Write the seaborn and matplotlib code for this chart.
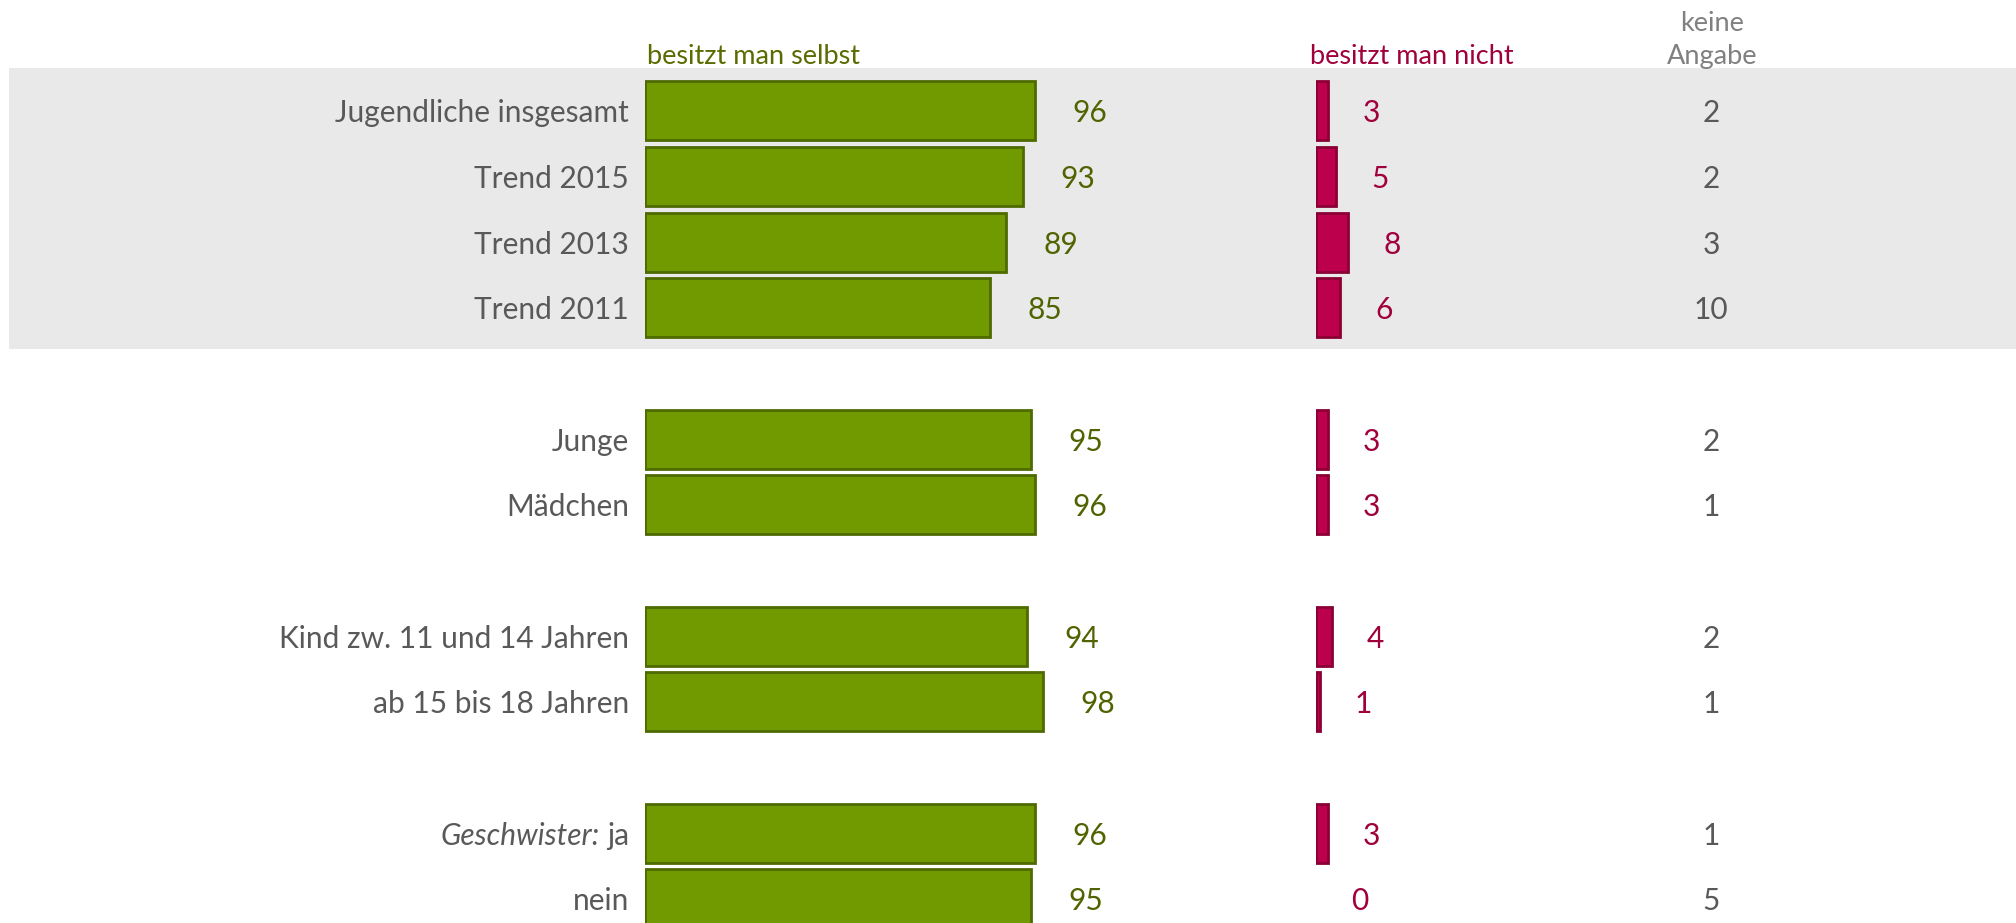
import matplotlib
matplotlib.use("Agg")
import matplotlib.pyplot as plt
import seaborn as sns
import pandas as pd

labels = ["Jugendliche insgesamt", "Trend 2015", "Trend 2013", "Trend 2011",
          "Junge", "Mädchen",
          "Kind zw. 11 und 14 Jahren", "ab 15 bis 18 Jahren",
          "Geschwister: ja", "nein"]
group_sizes = [4, 2, 2, 2]
own = [96, 93, 89, 85, 95, 96, 94, 98, 96, 95]
not_own = [3, 5, 8, 6, 3, 3, 4, 1, 3, 0]
no_answer = [2, 2, 3, 10, 2, 1, 2, 1, 1, 5]
headers = ["besitzt man selbst", "besitzt man nicht", "keine\nAngabe"]

GREEN, GREEN_EDGE, GREEN_TXT = "#719a00", "#4e6a00", "#4f6300"
RED, RED_EDGE, RED_TXT = "#bc004c", "#8a0036", "#a0003c"
GRAY_TXT = "#595959"

W, H = 2016, 923
PX_PER_PCT = 4.06

sns.set_theme(style="white")
plt.rcParams["font.family"] = ["Lato", "DejaVu Sans"]

df = pd.DataFrame({"label": labels, "own": own, "not_own": not_own, "no_answer": no_answer})

# category order with empty spacer slots between the groups
order = []
i = 0
for g, n in enumerate(group_sizes):
    if g > 0:
        order.append(f"_gap{g}")
    order += labels[i:i + n]
    i += n
pos = {name: k for k, name in enumerate(order)}
ylim = (len(order) - 1 + 0.37, -1.69)

fig = plt.figure(figsize=(W / 100, H / 100), dpi=100)

# background axes for the grey band and free text
ax_bg = fig.add_axes([0, 0, 1, 1])
ax_bg.set_xlim(0, W)
ax_bg.set_ylim(*ylim)
ax_bg.axhspan(-0.66, 3.63, xmin=9 / W, xmax=1, color="#e9e9e9", lw=0)
ax_bg.axis("off")

g_left, g_width = 645, 620
r_left, r_width = 1316, 300
ax_g = fig.add_axes([g_left / W, 0, g_width / W, 1])
ax_r = fig.add_axes([r_left / W, 0, r_width / W, 1])

sns.barplot(data=df, x="own", y="label", order=order, orient="h", ax=ax_g,
            color=GREEN, edgecolor=GREEN_EDGE, linewidth=2, width=0.9, saturation=1)
sns.barplot(data=df, x="not_own", y="label", order=order, orient="h", ax=ax_r,
            color=RED, edgecolor=RED_EDGE, linewidth=2, width=0.9, saturation=1)

ax_g.set_xlim(0, g_width / PX_PER_PCT)
ax_r.set_xlim(0, r_width / PX_PER_PCT)
for ax in (ax_g, ax_r):
    ax.set_ylim(*ylim)
    ax.patch.set_visible(False)
    ax.axis("off")

for p in ax_r.patches:
    if p.get_width() == 0:
        p.set_visible(False)

for t in ax_g.bar_label(ax_g.containers[0], padding=27, color=GREEN_TXT, fontsize=21.5):
    t.set_va("center_baseline")
for t in ax_r.bar_label(ax_r.containers[0], padding=25, color=RED_TXT, fontsize=21.5):
    t.set_va("center_baseline")

# row labels
LBL = 21.5
for name in labels:
    y = pos[name]
    if ": " in name:
        head, tail = name.split(": ", 1)
        t = ax_g.annotate(tail, xy=(0, y), xycoords=("axes fraction", "data"),
                          xytext=(-11.5, 0), textcoords="offset points",
                          ha="right", va="center_baseline", fontsize=LBL, color=GRAY_TXT)
        ax_g.annotate(head + ":", xy=(0, 0.5), xycoords=t, xytext=(-5, 0),
                      textcoords="offset points", ha="right", va="center",
                      fontsize=LBL, color=GRAY_TXT, style="italic")
    else:
        ax_g.annotate(name, xy=(0, y), xycoords=("axes fraction", "data"),
                      xytext=(-11.5, 0), textcoords="offset points",
                      ha="right", va="center_baseline", fontsize=LBL, color=GRAY_TXT)

# keine Angabe column
for name, v in zip(labels, no_answer):
    ax_bg.text(1711, pos[name], str(v), ha="center", va="center_baseline",
               fontsize=21.5, color=GRAY_TXT)

fig.text(647 / W, 1 - 57 / H, headers[0], ha="left", va="center", fontsize=19.5, color="#5a6b00")
fig.text(1310 / W, 1 - 57 / H, headers[1], ha="left", va="center", fontsize=19.5, color=RED_TXT)
fig.text(1712 / W, 1 - 40 / H, headers[2], ha="center", va="center", fontsize=19.5,
         color="#808080", linespacing=1.4)

fig.savefig("out.png", dpi=100)
